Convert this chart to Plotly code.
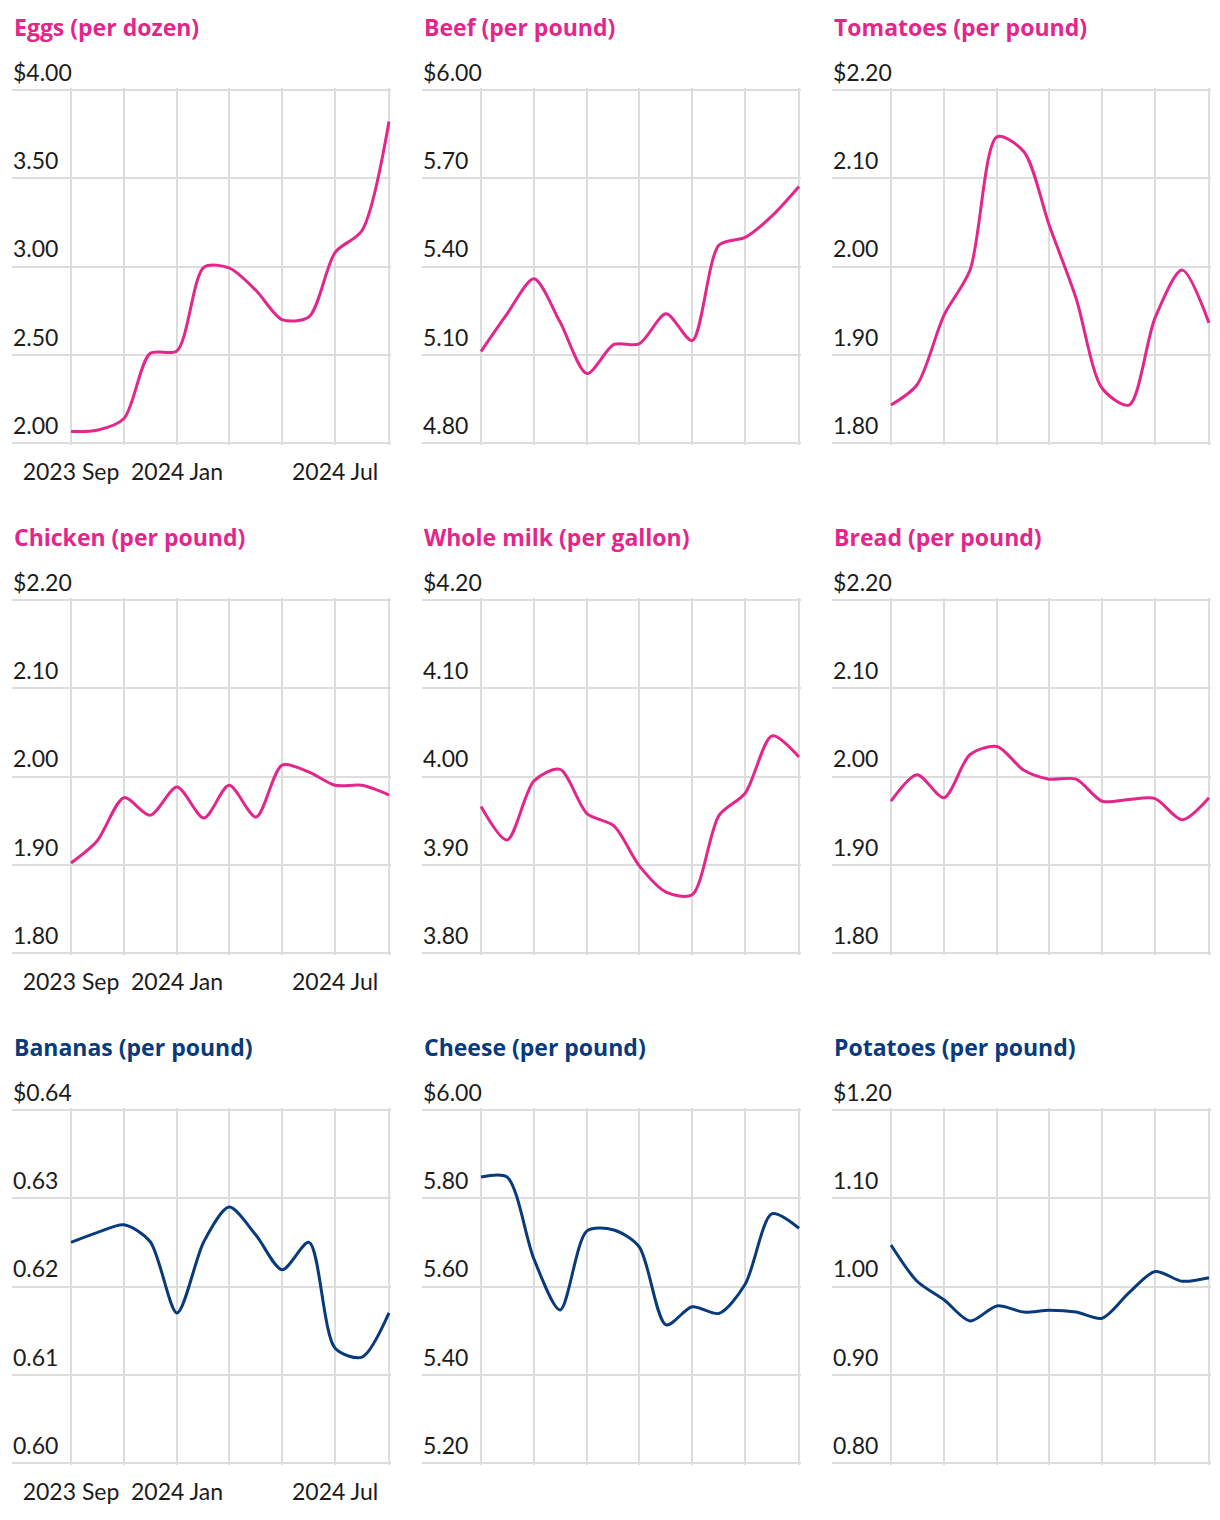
import plotly.graph_objects as go
import pandas as pd

# ---------------- data ----------------
months = ["2023-09-01", "2023-10-01", "2023-11-01", "2023-12-01", "2024-01-01",
          "2024-02-01", "2024-03-01", "2024-04-01", "2024-05-01", "2024-06-01",
          "2024-07-01", "2024-08-01", "2024-09-01"]

grid_months = ["2023-09-01", "2023-11-01", "2024-01-01", "2024-03-01",
               "2024-05-01", "2024-07-01", "2024-09-01"]
grid_labels = ["2023 Sep", "", "2024 Jan", "", "", "2024 Jul", ""]

eggs = [2.065, 2.072, 2.139, 2.507, 2.522, 2.996, 2.992, 2.864, 2.699, 2.715, 3.080, 3.204, 3.821]
beef = [5.111, 5.239, 5.358, 5.211, 5.036, 5.135, 5.137, 5.239, 5.148, 5.473, 5.499, 5.572, 5.672]
tomatoes = [1.843, 1.866, 1.945, 1.996, 2.147, 2.130, 2.047, 1.964, 1.862, 1.843, 1.942, 1.996, 1.936]
chicken = [1.902, 1.927, 1.976, 1.956, 1.988, 1.953, 1.990, 1.954, 2.013, 2.005, 1.990, 1.990, 1.979]
milk = [3.966, 3.928, 3.995, 4.008, 3.958, 3.944, 3.899, 3.869, 3.866, 3.956, 3.981, 4.046, 4.022]
bread = [1.972, 2.002, 1.976, 2.025, 2.034, 2.007, 1.997, 1.997, 1.972, 1.974, 1.975, 1.951, 1.976]
bananas = [0.6250, 0.6261, 0.6270, 0.6251, 0.6170, 0.6251, 0.6290, 0.6258, 0.6219, 0.6250, 0.6130, 0.6120, 0.6170]
cheese = [5.848, 5.848, 5.662, 5.547, 5.726, 5.728, 5.690, 5.513, 5.554, 5.539, 5.605, 5.765, 5.732]
potatoes = [1.047, 1.006, 0.985, 0.961, 0.978, 0.971, 0.973, 0.971, 0.964, 0.993, 1.017, 1.006, 1.010]

titles = ["Eggs (per dozen)", "Beef (per pound)", "Tomatoes (per pound)",
          "Chicken (per pound)", "Whole milk (per gallon)", "Bread (per pound)",
          "Bananas (per pound)", "Cheese (per pound)", "Potatoes (per pound)"]

eggs_ticks = [2.0, 2.5, 3.0, 3.5, 4.0]
beef_ticks = [4.8, 5.1, 5.4, 5.7, 6.0]
tomatoes_ticks = [1.8, 1.9, 2.0, 2.1, 2.2]
chicken_ticks = [1.8, 1.9, 2.0, 2.1, 2.2]
milk_ticks = [3.8, 3.9, 4.0, 4.1, 4.2]
bread_ticks = [1.8, 1.9, 2.0, 2.1, 2.2]
bananas_ticks = [0.60, 0.61, 0.62, 0.63, 0.64]
cheese_ticks = [5.2, 5.4, 5.6, 5.8, 6.0]
potatoes_ticks = [0.8, 0.9, 1.0, 1.1, 1.2]

series = [eggs, beef, tomatoes, chicken, milk, bread, bananas, cheese, potatoes]
ticks = [eggs_ticks, beef_ticks, tomatoes_ticks, chicken_ticks, milk_ticks,
         bread_ticks, bananas_ticks, cheese_ticks, potatoes_ticks]

# ---------------- style / geometry ----------------
OFF = 8                     # page body margin
W, H = 1204, 1504           # figure size (fits inside the 1220x1520 window)
PINK = "#e4268b"
NAVY = "#083a7c"
colors = [PINK] * 6 + [NAVY] * 3
TICK_FONT = "Lato"
TITLE_FONT = "Open Sans"
TXT = "#1c1c1c"
GRID = "#dddddd"

col_left = [12, 422, 832]   # page px where gridlines start
data_offset = 59            # px from gridline start to first month
data_span = 318             # px from first to last month
row_top = [90, 600, 1110]
row_height = 353
title_y = [27, 537, 1047]
PAD = 2                     # extra px so edge gridlines are not clipped


def fx(p):
    return (p - OFF) / W


def fy(p):
    return 1 - (p - OFF) / H


first = pd.Timestamp(months[0])
last = pd.Timestamp(months[-1])
dpp = (last - first).days / data_span   # days per pixel
x_start = first - pd.Timedelta(days=dpp * data_offset)
x_end = last + pd.Timedelta(days=dpp * PAD)

fig = go.Figure()

for i, vals in enumerate(series):
    r, c = divmod(i, 3)
    sfx = "" if i == 0 else str(i + 1)
    fig.add_trace(go.Scatter(
        x=months, y=vals, mode="lines",
        line=dict(color=colors[i], width=3, shape="spline", smoothing=0.8),
        xaxis="x" + sfx, yaxis="y" + sfx, hoverinfo="skip", showlegend=False))

    L = col_left[c]
    R = L + data_offset + data_span + PAD
    T = row_top[r] - PAD
    B = row_top[r] + row_height + PAD

    tv = ticks[i]
    upp = (tv[-1] - tv[0]) / row_height
    tt = [("$" if v == tv[-1] else "") + f"{v:.2f}" for v in tv]

    fig.layout["xaxis" + sfx] = dict(
        domain=[fx(L), fx(R)], anchor="y" + sfx,
        range=[x_start, x_end], type="date",
        tickmode="array", tickvals=grid_months,
        ticktext=grid_labels if c == 0 else [""] * len(grid_months),
        showticklabels=(c == 0),
        showgrid=True, gridcolor=GRID, gridwidth=1.5,
        zeroline=False, showline=False, ticks="",
        ticklabelstandoff=13 - PAD,
        tickfont=dict(family=TICK_FONT, size=23, color=TXT),
        fixedrange=True)
    fig.layout["yaxis" + sfx] = dict(
        domain=[fy(B), fy(T)], anchor="x" + sfx,
        range=[tv[0] - PAD * upp, tv[-1] + PAD * upp],
        tickmode="array", tickvals=tv, ticktext=tt,
        ticklabelposition="inside top", ticklabeloverflow="allow",
        ticklabelshift=-1, ticklabelstandoff=-2,
        showgrid=True, gridcolor=GRID, gridwidth=1.5,
        zeroline=False, showline=False, ticks="",
        tickfont=dict(family=TICK_FONT, size=23, color=TXT),
        fixedrange=True)

    fig.add_annotation(
        x=fx(L), y=fy(title_y[r]), xref="paper", yref="paper",
        xanchor="left", yanchor="middle", showarrow=False,
        text="<b>" + titles[i] + "</b>",
        font=dict(family=TITLE_FONT, size=23, color=colors[i]))

fig.update_layout(
    width=W, height=H,
    margin=dict(l=0, r=0, t=0, b=0, autoexpand=False),
    paper_bgcolor="white", plot_bgcolor="white",
    font=dict(family=TICK_FONT, color=TXT))

fig.write_html("out.html")
